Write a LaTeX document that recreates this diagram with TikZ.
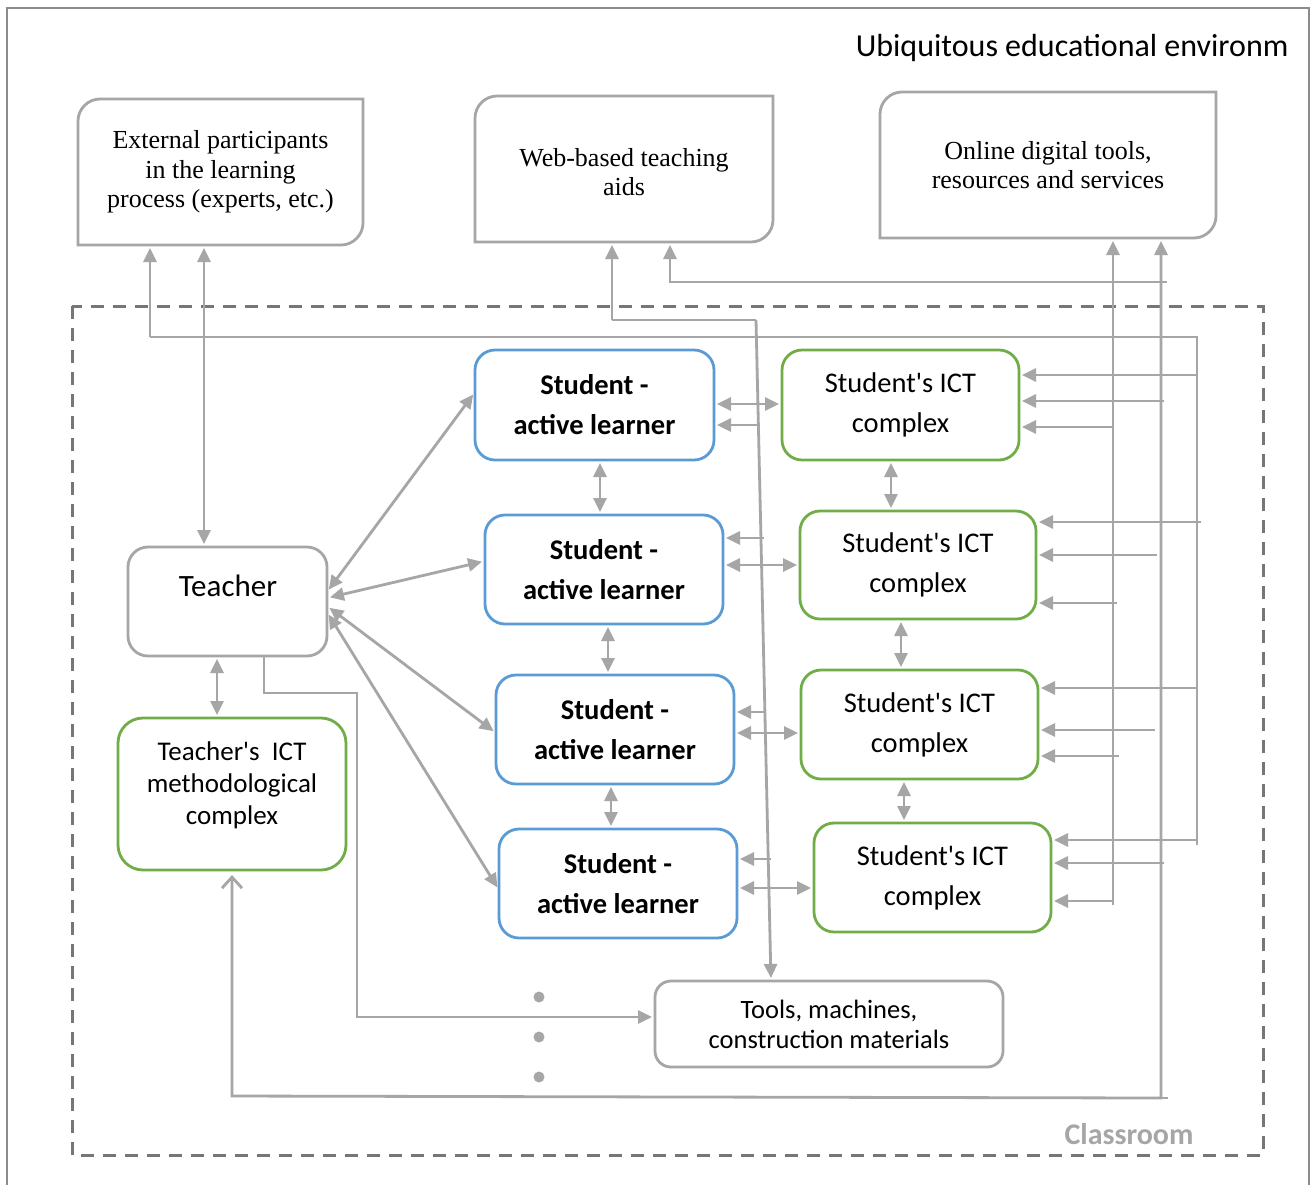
\documentclass[tikz,border=0pt]{standalone}
\usepackage{fontspec}
\setmainfont{Liberation Serif}
\newfontfamily\calibri{Carlito}
\usetikzlibrary{arrows.meta,calc}
\definecolor{lg}{HTML}{A6A6A6}
\definecolor{bl}{HTML}{5B9BD5}
\definecolor{gr}{HTML}{70AD47}
\definecolor{dg}{HTML}{767676}
\definecolor{fr}{HTML}{8C8C8C}
\newcommand\diagcorners[1]{\draw[draw=lg,line width=2.8pt] (#1.south west) -- ([yshift=-22pt]#1.north west) .. controls ([yshift=-10pt]#1.north west) and ([xshift=10pt]#1.north west) .. ([xshift=22pt]#1.north west) -- (#1.north east) -- ([yshift=22pt]#1.south east) .. controls ([yshift=10pt]#1.south east) and ([xshift=-10pt]#1.south east) .. ([xshift=-22pt]#1.south east) -- cycle;}
\begin{document}
\begin{tikzpicture}[x=1pt,y=-1pt,
  conn/.style={draw=lg,line width=2.8pt},
  arr/.style={conn,-{Triangle[length=14pt,width=13pt]},shorten >=3pt},
  dbl/.style={conn,{Triangle[length=14pt,width=13pt]}-{Triangle[length=14pt,width=13pt]},shorten >=3pt,shorten <=3pt},
  topbox/.style={inner sep=0pt,outer sep=0pt,align=center,font=\fontsize{26}{29.5}\selectfont},
  stud/.style={draw=bl,line width=2.8pt,rounded corners=20pt,inner sep=0pt,outer sep=0pt,align=center,minimum width=238pt,minimum height=109pt,font=\calibri\bfseries\fontsize{28.5}{40}\selectfont},
  ictbox/.style={draw=gr,line width=2.8pt,rounded corners=20pt,inner sep=0pt,outer sep=0pt,align=center,minimum width=237pt,minimum height=109pt,font=\calibri\fontsize{28.5}{40}\selectfont},
  gbox/.style={draw=lg,line width=2.8pt,rounded corners=20pt,inner sep=0pt,outer sep=0pt,align=center}
]
\useasboundingbox (0,0) rectangle (1313,1184);
\fill[white] (0,0) rectangle (1313,1184);
% frames
\draw[fr,line width=2.5pt] (7,1195) -- (7,8) -- (1309,8) -- (1309,1195);
\draw[dg,line width=3pt,dash pattern=on 13pt off 9pt] (72,306) rectangle (1263,1155);
\node[anchor=east,font=\calibri\fontsize{32}{38}\selectfont] (title) at (1292,48) {Ubiquitous educational environm};
\node[anchor=east,text=lg,font=\calibri\bfseries\fontsize{30}{36}\selectfont] (classroom) at (1197,1134) {Classroom};
% top boxes
\node[topbox,minimum width=285pt,minimum height=146pt] (ext) at (220.5,172) {External participants\\in the learning\\process (experts, etc.)};
\diagcorners{ext}
\node[topbox,minimum width=298pt,minimum height=146pt] (web) at (624,169) {};
\node[topbox] (webtxt) at (624,172) {Web-based teaching\\aids};
\diagcorners{web}
\node[topbox,minimum width=336pt,minimum height=146pt] (onl) at (1048,165) {Online digital tools,\\resources and services};
\diagcorners{onl}
% classroom boxes
\node[gbox,minimum width=199pt,minimum height=109pt] (teacher) at (227.5,601.5) {};
\node[font=\calibri\fontsize{31}{36}\selectfont] (teachertxt) at (228,586) {Teacher};
\node[gbox,draw=gr,rounded corners=25pt,minimum width=228pt,minimum height=152pt] (tict) at (232,794) {};
\node[align=center,font=\calibri\fontsize{27}{32}\selectfont] (tictxt) at (232,785) {Teacher's~ ICT\\methodological\\complex};
\node[stud,minimum width=239pt,minimum height=110pt] (s1) at (594.5,405) {Student -\\active learner};
\node[stud] (s2) at (604,569.5) {Student -\\active learner};
\node[stud] (s3) at (615,729.5) {Student -\\active learner};
\node[stud] (s4) at (618,883.5) {Student -\\active learner};
\node[ictbox,minimum height=110pt] (c1) at (900.5,405) {Student's ICT\\complex};
\node[ictbox,minimum width=236pt,minimum height=108pt] (c2) at (918,565) {Student's ICT\\complex};
\node[ictbox] (c3) at (919.5,724.5) {Student's ICT\\complex};
\node[ictbox] (c4) at (932.5,877.5) {Student's ICT\\complex};
\node[gbox,rounded corners=16pt,minimum width=348pt,minimum height=86pt,font=\calibri\fontsize{26.5}{30}\selectfont] (tools) at (829,1024) {Tools, machines,\\construction materials};
\foreach \yy/\nm in {997/d1,1037/d2,1077/d3} \fill[lg] (539,\yy) circle (5.5pt) coordinate (\nm);
% external participants line
\draw[conn] (150,337) -- (1197,337) -- (1197,845);
\draw[arr] (150,337) -- (ext.south -| 150,0);
\draw[arr] (1197,375) -- (c1.east |- 0,375);
\draw[arr] (1201,522) -- (c2.east |- 0,522);
\draw[arr] (1197,688) -- (c3.east |- 0,688);
\draw[arr] (1197,840) -- (c4.east |- 0,840);
% web-based aids lines
\draw[conn] (612,320) -- (756,320);
\draw[arr] (612,320) -- (web.south -| 612,0);
\draw[arr] (756,320) -- (tools.north -| 771,0);
\draw[arr] (759,425) -- (s1.east |- 0,425);
\draw[arr] (764,538) -- (s2.east |- 0,538);
\draw[arr] (765,712) -- (s3.east |- 0,712);
\draw[arr] (771,859) -- (s4.east |- 0,859);
\draw[arr] (1167,282) -- (670,282) -- (web.south -| 670,0);
% online tools lines
\draw[arr] (1113,905) -- (onl.south -| 1113,0);
\draw[arr] (1113,427) -- (c1.east |- 0,427);
\draw[arr] (1117,603) -- (c2.east |- 0,603);
\draw[arr] (1119,756) -- (c3.east |- 0,756);
\draw[arr] (1113,901) -- (c4.east |- 0,901);
\draw[conn,{Triangle[length=14pt,width=13pt]}-{Straight Barb[length=11pt,width=20pt]},shorten <=3pt,shorten >=5pt] (onl.south -| 1161,0) -- (1161,1098) -- (232,1096) -- (tict.south);
\draw[conn] (1161,1098) -- (1168,1098);
\draw[arr] (1164,401) -- (c1.east |- 0,401);
\draw[arr] (1157,555) -- (c2.east |- 0,555);
\draw[arr] (1155,730) -- (c3.east |- 0,730);
\draw[arr] (1164,863) -- (c4.east |- 0,863);
% teacher connectors
\draw[dbl] (teacher.north -| 204,0) -- (ext.south -| 204,0);
\draw[dbl] (teacher.south -| 217,0) -- (tict.north -| 217,0);
\draw[arr] (teacher.south -| 264,0) -- (264,693) -- (357,693) -- (357,1017) -- (tools.west |- 0,1017);
\draw[dbl] (teacher.east |- 0,592) -- (s1.west |- 0,392);
\draw[dbl] (teacher.east |- 0,598) -- (s2.west |- 0,561);
\draw[dbl] (teacher.east |- 0,606) -- (s3.west |- 0,733);
\draw[dbl] (teacher.east |- 0,612) -- (s4.west |- 0,890);
% student chain
\draw[dbl] (s1.south -| 600,0) -- (s2.north -| 600,0);
\draw[dbl] (s2.south -| 608,0) -- (s3.north -| 608,0);
\draw[dbl] (s3.south -| 611,0) -- (s4.north -| 611,0);
\draw[dbl] (c1.south -| 891,0) -- (c2.north -| 891,0);
\draw[dbl] (c2.south -| 901,0) -- (c3.north -| 901,0);
\draw[dbl] (c3.south -| 904,0) -- (c4.north -| 904,0);
\draw[dbl] (s1.east |- 0,404) -- (c1.west |- 0,404);
\draw[dbl] (s2.east |- 0,565) -- (c2.west |- 0,565);
\draw[dbl] (s3.east |- 0,733) -- (c3.west |- 0,733);
\draw[dbl] (s4.east |- 0,888) -- (c4.west |- 0,888);
\end{tikzpicture}
\end{document}
